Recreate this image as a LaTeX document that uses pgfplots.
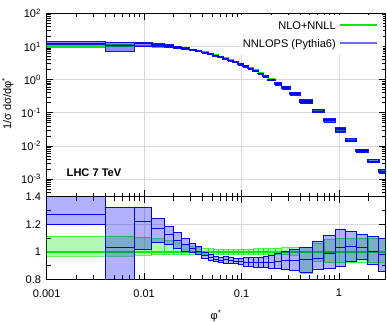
\documentclass[border=0pt]{standalone}
\usepackage{fontspec}
\setmainfont{Liberation Sans}
\usepackage{pgfplots}
\usepackage{pgfplotstable}
\pgfplotsset{compat=1.18}
\definecolor{mygreen}{RGB}{0,235,0}
\definecolor{myblue}{RGB}{0,0,245}
\definecolor{legblue}{RGB}{110,110,245}

% bin edges, NLO+NNLL normalised value G, its band (ratio) glo/ghi,
% NNLOPS ratio r and band rlo/rhi
\pgfplotstableread{
x0 x1 G glo ghi r rlo rhi
0.001 0.004 9.8 0.97 1.115 1.27 1.20 1.45
0.004 0.008 10.2 0.97 1.115 1.03 0.70 1.318
0.008 0.012 10.0 0.975 1.107 1.22 1.015 1.32
0.012 0.016 9.7 0.978 1.095 1.167 1.07 1.238
0.016 0.020 9.3 0.98 1.08 1.125 1.055 1.185
0.020 0.024 8.9 0.98 1.065 1.085 1.025 1.14
0.024 0.029 8.4 0.981 1.05 1.05 1.0 1.097
0.029 0.034 7.8 0.982 1.04 1.025 0.995 1.06
0.034 0.039 7.2 0.982 1.032 1.005 0.98 1.036
0.039 0.0454 6.65 0.982 1.026 0.973 0.951 0.995
0.0454 0.0511 6.1 0.982 1.022 0.96 0.94 0.98
0.0511 0.0576 5.55 0.982 1.02 0.945 0.927 0.964
0.0576 0.0648 5.0 0.982 1.018 0.94 0.922 0.958
0.0648 0.0729 4.5 0.982 1.018 0.941 0.918 0.964
0.0729 0.082 4.0 0.982 1.018 0.938 0.918 0.958
0.082 0.0923 3.55 0.982 1.018 0.932 0.913 0.951
0.0923 0.1038 3.1 0.982 1.018 0.93 0.908 0.951
0.1038 0.1169 2.7 0.982 1.019 0.925 0.895 0.956
0.1169 0.1315 2.3 0.982 1.02 0.924 0.892 0.956
0.1315 0.148 1.95 0.982 1.021 0.922 0.889 0.956
0.148 0.1665 1.63 0.982 1.022 0.923 0.886 0.96
0.1665 0.187 1.33 0.982 1.024 0.924 0.884 0.964
0.187 0.22 1.06 0.982 1.026 0.924 0.876 0.971
0.22 0.257 0.80 0.981 1.028 0.932 0.876 0.988
0.257 0.313 0.60 0.98 1.03 0.935 0.869 1.0
0.313 0.396 0.40 0.975 1.033 0.94 0.864 1.015
0.396 0.535 0.235 0.845 1.035 0.942 0.85 1.034
0.535 0.70 0.118 0.93 1.06 0.954 0.869 1.075
0.70 0.917 0.059 0.92 1.09 0.99 0.881 1.116
0.917 1.16 0.030 0.92 1.10 1.03 0.893 1.165
1.16 1.5 0.0145 0.92 1.10 1.04 0.93 1.148
1.5 1.98 0.0070 0.92 1.10 1.03 0.942 1.124
1.98 2.56 0.0035 0.92 1.10 1.0 0.905 1.112
2.56 3.3 0.0018 0.92 1.10 0.98 0.857 1.10
}\bins

% build the plot commands (outside any axis) from the table
\def\lowG{}\def\lowB{}\def\topG{}\def\topB{}
\newcommand\addbox[7]{% #1 macro, #2 style, #3 x0, #4 x1, #5 lo, #6 hi, #7 central
  \xdef#1{\unexpanded\expandafter{#1}%
    \noexpand\addplot[#2box] coordinates {(#3,#5) (#4,#5) (#4,#6) (#3,#6) (#3,#5)};%
    \noexpand\addplot[#2line] coordinates {(#3,#7) (#4,#7)};}%
}
\pgfplotsforeachungrouped \i in {0,...,33}{%
  \pgfplotstablegetelem{\i}{x0}\of\bins \let\xa\pgfplotsretval
  \pgfplotstablegetelem{\i}{x1}\of\bins \let\xb\pgfplotsretval
  \pgfplotstablegetelem{\i}{G}\of\bins \let\gv\pgfplotsretval
  \pgfplotstablegetelem{\i}{glo}\of\bins \let\gl\pgfplotsretval
  \pgfplotstablegetelem{\i}{ghi}\of\bins \let\gh\pgfplotsretval
  \pgfplotstablegetelem{\i}{r}\of\bins \let\rv\pgfplotsretval
  \pgfplotstablegetelem{\i}{rlo}\of\bins \let\rl\pgfplotsretval
  \pgfplotstablegetelem{\i}{rhi}\of\bins \let\rh\pgfplotsretval
  \edef\tmp{\noexpand\addbox\noexpand\lowG{myg}{\xa}{\xb}{\gl}{\gh}{1}}\tmp
  \edef\tmp{\noexpand\addbox\noexpand\lowB{myb}{\xa}{\xb}{\rl}{\rh}{\rv}}\tmp
  \pgfmathsetmacro\ya{\gv*\gl}\pgfmathsetmacro\yb{\gv*\gh}%
  \edef\tmp{\noexpand\addbox\noexpand\topG{mytg}{\xa}{\xb}{\ya}{\yb}{\gv}}\tmp
  \pgfmathsetmacro\ya{\gv*\rl}\pgfmathsetmacro\yb{\gv*\rh}\pgfmathsetmacro\yc{\gv*\rv}%
  \edef\tmp{\noexpand\addbox\noexpand\topB{mytb}{\xa}{\xb}{\ya}{\yb}{\yc}}\tmp
}

\pgfplotsset{
  myaxis/.style={scale only axis, width=254.1pt, xmin=0.001, xmax=3,
    tick align=inside, major tick length=5pt, minor tick length=3pt,
    axis line style={line width=0.9pt},
    every tick/.append style={black, line width=0.6pt},
    grid=major, major grid style={black!15, line width=0.7pt},
    xtick={0.001,0.01,0.1,1},
    minor xtick={0.002,0.003,0.004,0.005,0.006,0.007,0.008,0.009,0.02,0.03,0.04,0.05,0.06,0.07,0.08,0.09,0.2,0.3,0.4,0.5,0.6,0.7,0.8,0.9,2,3},
    tick label style={font=\fontsize{8.3}{10}\selectfont},
    label style={font=\fontsize{8.3}{10}\selectfont},
    yticklabel style={xshift=-1.2pt},
  },
  mygbox/.style={draw=mygreen, draw opacity=0.6, fill=mygreen, fill opacity=0.3, line width=0.6pt, forget plot},
  mygline/.style={mygreen, line width=1.2pt, forget plot},
  mybbox/.style={draw=myblue, fill=myblue, fill opacity=0.3, line width=0.7pt, forget plot},
  mybline/.style={myblue, line width=0.7pt, forget plot},
  mytgbox/.style={draw=mygreen, fill=mygreen, fill opacity=0.3, line width=0.8pt, forget plot},
  mytgline/.style={mygreen, line width=0.8pt, forget plot},
  mytbbox/.style={draw=myblue, draw opacity=0.9, fill=myblue, fill opacity=0.45, line width=1.1pt, forget plot},
  mytbline/.style={myblue, line width=0.9pt, forget plot},
}

\begin{document}
\fontsize{8.3}{10}\selectfont
\begin{tikzpicture}
\useasboundingbox (-35pt,-31.3pt) rectangle (255.2pt,209.5pt);

\begin{axis}[xmode=log, myaxis, at={(0,0)}, anchor=south west, height=62.1pt,
  ymin=0.8, ymax=1.4, ytick={0.8,1,1.2,1.4}, yticklabels={0.8,1,1.2,1.4},
  minor ytick={0.9,1.1,1.3},
  xticklabels={0.001,0.01,0.1,1}, xticklabel style={yshift=-4.5pt},
  xlabel={φ\textsuperscript{*}},
  xlabel style={at={(rel axis cs:0.5,0)}, anchor=center, yshift=-27.3pt}]
  \lowG
  \lowB
\end{axis}

\begin{axis}[xmode=log, ymode=log, myaxis, at={(0,62.1pt)}, anchor=south west, height=137.4pt,
  ymin=3e-4, ymax=100,
  ytick={0.001,0.01,0.1,1,10,100},
  yticklabels={10\textsuperscript{-3},10\textsuperscript{-2},10\textsuperscript{-1},10\textsuperscript{0},10\textsuperscript{1},10\textsuperscript{2}},
  minor ytick={0.0004,0.0005,0.0006,0.0007,0.0008,0.0009,0.002,0.003,0.004,0.005,0.006,0.007,0.008,0.009,0.02,0.03,0.04,0.05,0.06,0.07,0.08,0.09,0.2,0.3,0.4,0.5,0.6,0.7,0.8,0.9,2,3,4,5,6,7,8,9,20,30,40,50,60,70,80,90},
  xticklabels={},
  ylabel={1/σ dσ/dφ\textsuperscript{*}},
  ylabel style={at={(rel axis cs:0,0.508)}, anchor=south, yshift=22pt},
  ]
  \topG
  \topB
  % legend (white box hides the grid, text right-aligned, sample to its right)
  \fill[white] (rel axis cs:0.568,0.772) rectangle (rel axis cs:0.993,0.993);
  \node[anchor=base east, inner sep=0pt, font=\fontsize{8.3}{10}\selectfont] at (rel axis cs:0.854,0.9143) {NLO+NNLL};
  \draw[draw=mygreen, draw opacity=1, line width=1.1pt] (rel axis cs:0.8657,0.936) -- (rel axis cs:0.9737,0.936);
  \node[anchor=base east, inner sep=0pt, font=\fontsize{8.3}{10}\selectfont] at (rel axis cs:0.854,0.8144) {NNLOPS (Pythia6)};
  \draw[draw=legblue, draw opacity=1, line width=1.3pt] (rel axis cs:0.8657,0.8362) -- (rel axis cs:0.9737,0.8362);
  \node[font=\bfseries\fontsize{8.3}{10}\selectfont, anchor=center] at (rel axis cs:0.1397,0.131) {LHC 7 TeV};
\end{axis}
\end{tikzpicture}
\end{document}
